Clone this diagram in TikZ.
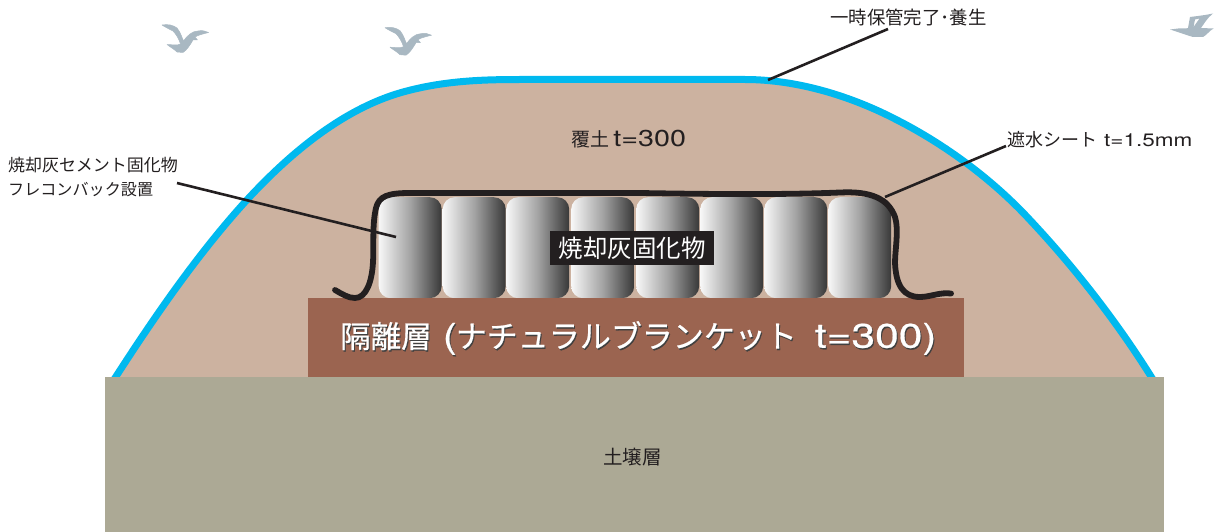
\documentclass[tikz,border=0pt]{standalone}
\usepackage{fontspec}
\setmainfont{Noto Sans CJK JP}
\newfontfamily\hvfont[FakeStretch=1.25]{TeX Gyre Heros}
\newfontfamily\heavycjk[FakeBold=0.6]{Noto Sans CJK JP}
\newfontfamily\heavyhv[FakeStretch=1.25,FakeBold=0.6]{TeX Gyre Heros}
\newcommand{\hv}[1]{{\hvfont #1}}
\definecolor{soilcover}{HTML}{CCB2A0}
\definecolor{sheetblue}{HTML}{00B9EF}
\definecolor{barrier}{HTML}{9B6450}
\definecolor{ground}{HTML}{ACA995}
\definecolor{birdgrey}{HTML}{A9B8C2}
\definecolor{ink}{HTML}{231F20}
\pgfdeclarehorizontalshading{bagshade}{100bp}{
  color(0bp)=(white!97!black);
  color(25bp)=(white!97!black);
  color(50bp)=(black!36);
  color(75bp)=(black!78);
  color(100bp)=(black!78)}
\tikzset{
  bag/.style={rounded corners=12pt,shading=bagshade,minimum width=63pt,
    minimum height=101pt,inner sep=0pt,draw=none,anchor=north west},
  leader/.style={draw=ink,line width=2.6pt},
  note/.style={inner sep=0pt,text=ink,align=left,font=\fontsize{17}{24}\selectfont},
  band/.style={draw=none,inner sep=0pt,anchor=north west},
  birdshape/.style={fill=birdgrey,draw=birdgrey,line width=.5pt,line join=round}
}
\newcommand{\gullpath}{
  (22,25) .. controls (28,24) and (33,25) .. (37,28)
  .. controls (41,33) and (42,38) .. (43.5,41)
  .. controls (47,36) and (52,31) .. (58,31)
  .. controls (62,30) and (65,31) .. (68.5,32.5)
  .. controls (63,34) and (58,35) .. (55,37)
  -- (57.5,40) -- (53,40)
  .. controls (50,45) and (47,50) .. (43,52.5)
  -- (37,52) .. controls (34,49) and (30,47) .. (27,44.5)
  .. controls (32,44.5) and (37,46) .. (40.5,44)
  .. controls (39,39) and (36,34) .. (33,31)
  .. controls (29,29) and (25,27) .. (22,25) -- cycle}
\newcommand{\layertext}{{\fontsize{30.5}{34}\heavycjk 隔離層\hspace{11pt}}{\fontsize{34}{34}\heavyhv (\hspace{-1pt}}{\fontsize{31}{34}\heavycjk ナチュラルブランケット\hspace{18pt}}{\fontsize{34}{34}\heavyhv t=300)}}
\begin{document}
\begin{tikzpicture}[x=1pt,y=-1pt]
\useasboundingbox (0,0) rectangle (1217,532);

% covering soil with the waterproof sheet along its crest
\begin{scope}
  \clip (0,0) rectangle (1217,378);
  \path[fill=soilcover,draw=sheetblue,line width=7pt,line join=round]
    (108,389) -- (115,378)
    .. controls (154,317.5) and (197,255) .. (245,202)
    .. controls (288,155) and (342,109) .. (403,92)
    .. controls (443,81) and (480,79.5) .. (520,79.5)
    -- (745,79.5)
    .. controls (797,79.5) and (851,96) .. (897,120)
    .. controls (946,145) and (993,180) .. (1030,220)
    .. controls (1075,268) and (1117,322) .. (1152,378)
    -- (1159,389) -- cycle;
\end{scope}

% sheet-wrapped bags
\foreach \i/\xa in {1/378.5,2/442.5,3/506,4/571,5/636,6/700,7/764,8/828}
  \node[bag] (bag\i) at (\xa,197) {};

% isolation layer and subsoil
\node[band,fill=barrier,minimum width=656pt,minimum height=80pt] (layer) at (308,298) {};
\node[band,fill=ground,minimum width=1059pt,minimum height=155pt] (soil) at (105,377) {};

% waterproof sheet folded over the bags
\draw[draw=ink,line width=5.8pt,line cap=round,line join=round]
  (335,290) .. controls (342,294) and (348,298) .. (355,298)
  .. controls (366,298) and (372,282) .. (373,262)
  .. controls (374,245) and (372,225) .. (376,208)
  .. controls (379,196) and (388,193) .. (410,193)
  -- (640,193) .. controls (700,194) and (780,195) .. (840,192.5)
  .. controls (870,191) and (888,198) .. (895,217)
  .. controls (899,230) and (895,250) .. (895,263)
  .. controls (896,285) and (903,297) .. (920,297)
  .. controls (930,297) and (940,292) .. (951,293.5);

% labels
\node[fill=ink,text=white,inner sep=0pt,minimum width=164pt,minimum height=34pt,
  font=\fontsize{24.5}{28}\selectfont] (solid) at (632,248) {焼却灰固化物};
\node[note,anchor=west,font=\fontsize{18.4}{22}\selectfont] (cap) at (830,17) {一時保管完了･養生};
\node[note,anchor=north west] (bagnote) at (8,157) {焼却灰セメント固化物\\{\fontsize{16.1}{24}\selectfont フレコンバック設置}};
\node[note,anchor=west,font=\fontsize{19}{22}\selectfont] (cover) at (571,139) {覆土 {\fontsize{23}{22}\selectfont\hvfont t=300}};
\node[note,anchor=west,font=\fontsize{18}{22}\selectfont] (sheetnote) at (1007,140) {遮水シート\hspace{7pt}\hv{t=1.5mm}};
\node[note,anchor=center,font=\fontsize{19.5}{22}\selectfont] (soilnote) at (632.5,457) {土壌層};
\node[inner sep=0pt,anchor=west,text=black!75,font=\fontsize{30}{34}\selectfont]
  (layershadow) at (341,339.5) {\layertext};
\node[inner sep=0pt,anchor=west,text=white,font=\fontsize{30}{34}\selectfont]
  (layernote) at (340,338) {\layertext};

% leader lines
\coordinate (capfoot) at (768,80);
\coordinate (capend) at (888,29);
\coordinate (bagfoot) at (396,237);
\coordinate (bagend) at (177,183);
\coordinate (sheetfoot) at (885,197);
\coordinate (sheetend) at (1006,146);
\draw[leader] (capend) -- (capfoot);
\draw[leader] (bagend) -- (bagfoot);
\draw[leader] (sheetend) -- (sheetfoot);

% gulls
\begin{scope}[shift={(140,0)}]
  \path[birdshape] \gullpath;
\end{scope}
\begin{scope}[shift={(363,2.7)}]
  \path[birdshape] \gullpath;
\end{scope}
\path[fill=birdgrey,even odd rule]
  (1170,29.5) -- (1178,28.5) .. controls (1182,28) and (1186,29) .. (1188,28)
  -- (1190,17) .. controls (1198,16) and (1206,15) .. (1213,13.5)
  .. controls (1207,18) and (1204,24) .. (1201,28) -- (1213.5,28.5)
  .. controls (1209,31) and (1207,35) .. (1203,37)
  -- (1193,37) .. controls (1186,35) and (1178,32) .. (1170,29.5) -- cycle
  (1193.5,27) -- (1199.5,18.5) -- (1195,19.5) -- cycle;
\end{tikzpicture}
\end{document}
